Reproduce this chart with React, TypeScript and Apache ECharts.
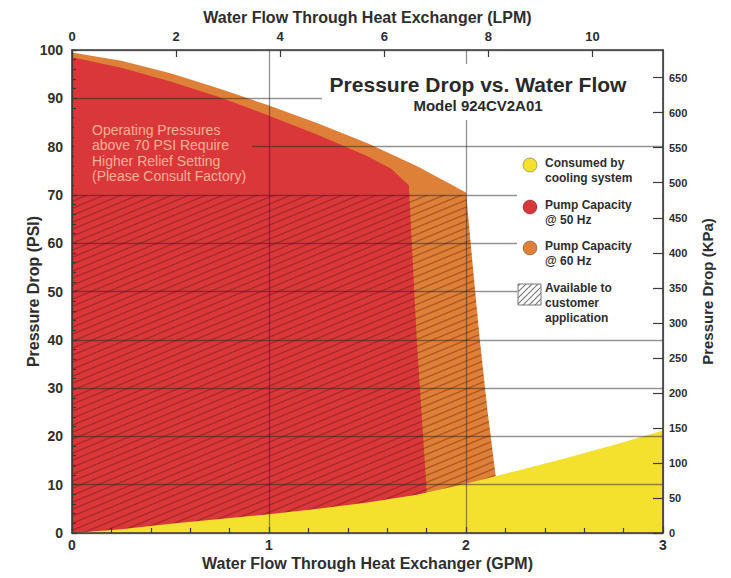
import React, { useEffect, useRef } from "react";
import * as echarts from "echarts";

const FONT = '"Liberation Sans", Arial, Helvetica, sans-serif';

const TITLE = "Pressure Drop vs. Water Flow";
const SUBTITLE = "Model 924CV2A01";
const NOTE_LINES = [
  "Operating Pressures",
  "above 70 PSI Require",
  "Higher Relief Setting",
  "(Please Consult Factory)",
];

const GPM_AXIS_NAME = "Water Flow Through Heat Exchanger (GPM)";
const LPM_AXIS_NAME = "Water Flow Through Heat Exchanger (LPM)";
const PSI_AXIS_NAME = "Pressure Drop (PSI)";
const KPA_AXIS_NAME = "Pressure Drop (KPa)";

const GPM_MAX = 3;
const PSI_MAX = 100;
const LPM_PER_GPM = 3.78541;
const KPA_PER_PSI = 6.89476;
const RELIEF_LIMIT_PSI = 70;

// Pump capacity @ 60 Hz (outline)
const pump60Gpm = [0, 0.25, 0.5, 0.75, 1, 1.25, 1.5, 1.75, 2.0, 2.035, 2.07, 2.11, 2.15];
const pump60Psi = [99.5, 97.8, 95.2, 92, 88.5, 84.8, 80.7, 76, 70.5, 55, 40, 25, 12];

// Pump capacity @ 50 Hz (outline)
const pump50Gpm = [0, 0.25, 0.5, 0.75, 1, 1.25, 1.5, 1.62, 1.71, 1.75, 1.8];
const pump50Psi = [98.5, 96.3, 93.5, 90.2, 86.4, 82.4, 78, 75.4, 72, 40, 9];

// Consumed by cooling system
const consumedGpm = [0, 0.25, 0.5, 0.75, 1, 1.25, 1.5, 1.75, 2, 2.25, 2.5, 2.75, 3];
const consumedPsi = [0, 0.8, 1.9, 2.9, 3.9, 5.0, 6.3, 7.9, 10.2, 12.8, 15.4, 18.2, 21.2];

const NAME_CONSUMED = "Consumed by\ncooling system";
const NAME_PUMP50 = "Pump Capacity\n@ 50 Hz";
const NAME_PUMP60 = "Pump Capacity\n@ 60 Hz";
const NAME_AVAILABLE = "Available to\ncustomer\napplication";

const RED = "#d9373a";
const ORANGE = "#df8038";
const YELLOW = "#f3e12e";
const NOTE_COLOR = "#f7b096";
const TEXT = "#2e2e2e";
const AXIS = "#3a3a3a";

function zip(xs: number[], ys: number[]) {
  return xs.map((x, i) => [x, ys[i]]);
}

function makeHatch(w: number, h: number, color: string, lw: number, bg?: string) {
  const c = document.createElement("canvas");
  c.width = w;
  c.height = h;
  const ctx = c.getContext("2d")!;
  if (bg) {
    ctx.fillStyle = bg;
    ctx.fillRect(0, 0, w, h);
  }
  ctx.strokeStyle = color;
  ctx.lineWidth = lw;
  for (const k of [-1, 0, 1]) {
    ctx.beginPath();
    ctx.moveTo(0, h + k * h);
    ctx.lineTo(w, k * h);
    ctx.stroke();
  }
  return { image: c.toDataURL(), repeat: "repeat", imageWidth: w, imageHeight: h };
}

export default function App() {
  const ref = useRef<HTMLDivElement>(null);

  useEffect(() => {
    const chart = echarts.init(ref.current!, null, { renderer: "svg" });
    const hatch = makeHatch(17, 7, "rgba(85,20,0,0.36)", 1.4);
    const legendHatch = makeHatch(6, 6, "#7a7a7a", 1.2, "#ffffff");

    const gridLine = { color: "rgba(40,40,40,0.5)", width: 1.3 };
    const labelBase = { color: TEXT, fontFamily: FONT, fontWeight: "bold" };
    const nameBase = { color: TEXT, fontFamily: FONT, fontWeight: "bold", fontSize: 16 };
    const lineBase = {
      type: "line",
      xAxisIndex: 0,
      yAxisIndex: 0,
      symbol: "none",
      silent: true,
      lineStyle: { width: 0, opacity: 0 },
      emphasis: { disabled: true },
    };

    const legendCircles = [
      { name: NAME_CONSUMED, fill: YELLOW, cy: 165 },
      { name: NAME_PUMP50, fill: RED, cy: 207 },
      { name: NAME_PUMP60, fill: ORANGE, cy: 248 },
    ];

    const legendElements: any[] = [
      { type: "rect", z: 50, shape: { x: 517, y: 150, width: 145, height: 184 }, style: { fill: "#fff" } },
    ];
    legendCircles.forEach((it) => {
      legendElements.push({
        type: "circle",
        z: 51,
        shape: { cx: 530, cy: it.cy, r: 7 },
        style: { fill: it.fill, stroke: "rgba(0,0,0,0.3)", lineWidth: 1 },
      });
      legendElements.push({
        type: "text",
        z: 51,
        x: 545,
        y: it.cy - 9.5,
        style: {
          text: it.name,
          fontFamily: FONT,
          fontWeight: "bold",
          fontSize: 12,
          lineHeight: 15,
          fill: TEXT,
          verticalAlign: "top",
          align: "left",
        },
      });
    });
    legendElements.push({
      type: "rect",
      z: 51,
      shape: { x: 518, y: 284, width: 23, height: 21 },
      style: { fill: legendHatch, stroke: "#777", lineWidth: 1 },
    });
    legendElements.push({
      type: "text",
      z: 51,
      x: 545,
      y: 280.5,
      style: {
        text: NAME_AVAILABLE,
        fontFamily: FONT,
        fontWeight: "bold",
        fontSize: 12,
        lineHeight: 15,
        fill: TEXT,
        verticalAlign: "top",
        align: "left",
      },
    });

    const option: any = {
      animation: false,
      grid: { left: 72, right: 68, top: 50, bottom: 45 },
      xAxis: [
        {
          type: "value",
          position: "bottom",
          min: 0,
          max: GPM_MAX,
          interval: 1,
          z: 5,
          name: GPM_AXIS_NAME,
          nameLocation: "middle",
          nameGap: 22,
          nameMoveOverlap: false,
          nameTextStyle: nameBase,
          axisLine: { onZero: false, lineStyle: { color: AXIS, width: 1.6 } },
          axisTick: { inside: true, length: 6, lineStyle: { color: AXIS, width: 1.2 } },
          minorTick: { show: true, splitNumber: 5, length: 5, lineStyle: { color: AXIS, width: 1.2 } },
          axisLabel: { ...labelBase, fontSize: 14, margin: 5 },
          splitLine: { show: true, lineStyle: gridLine },
        },
        {
          type: "value",
          position: "top",
          min: 0,
          max: GPM_MAX * LPM_PER_GPM,
          interval: 2,
          z: 5,
          name: LPM_AXIS_NAME,
          nameLocation: "middle",
          nameGap: 25,
          nameMoveOverlap: false,
          nameTextStyle: nameBase,
          axisLine: { onZero: false, lineStyle: { color: AXIS, width: 1.6 } },
          axisTick: { inside: true, length: 7, lineStyle: { color: AXIS, width: 1.2 } },
          axisLabel: {
            ...labelBase,
            fontSize: 13,
            margin: 7,
            showMaxLabel: false,
            formatter: (v: number) => (Math.abs(v % 2) < 1e-9 ? String(v) : ""),
          },
          splitLine: { show: false },
        },
      ],
      yAxis: [
        {
          type: "value",
          position: "left",
          min: 0,
          max: PSI_MAX,
          interval: 10,
          z: 5,
          name: PSI_AXIS_NAME,
          nameLocation: "middle",
          nameGap: 31,
          nameMoveOverlap: false,
          nameTextStyle: nameBase,
          axisLine: { onZero: false, lineStyle: { color: AXIS, width: 1.6 } },
          axisTick: { inside: true, length: 5, lineStyle: { color: AXIS, width: 1.2 } },
          minorTick: { show: true, splitNumber: 5, length: 4, lineStyle: { color: AXIS, width: 1.2 } },
          axisLabel: { ...labelBase, fontSize: 14, margin: 9 },
          splitLine: { show: true, lineStyle: gridLine },
        },
        {
          type: "value",
          position: "right",
          min: 0,
          max: PSI_MAX * KPA_PER_PSI,
          interval: 50,
          z: 60,
          name: KPA_AXIS_NAME,
          nameLocation: "middle",
          nameGap: 37,
          nameMoveOverlap: false,
          nameTextStyle: { ...nameBase, fontSize: 15 },
          axisLine: { onZero: false, lineStyle: { color: AXIS, width: 1.6 } },
          axisTick: { inside: true, length: 10, lineStyle: { color: AXIS, width: 1.2 } },
          axisLabel: {
            ...labelBase,
            fontSize: 11,
            margin: 6,
            showMaxLabel: false,
            formatter: (v: number) => (Math.abs(v % 50) < 1e-9 ? String(v) : ""),
          },
          splitLine: { show: false },
        },
      ],
      series: [
        {
          ...lineBase,
          name: NAME_PUMP60,
          data: zip(pump60Gpm, pump60Psi),
          itemStyle: { color: ORANGE },
          areaStyle: { color: ORANGE, opacity: 1 },
        },
        {
          ...lineBase,
          name: NAME_PUMP50,
          data: zip(pump50Gpm, pump50Psi),
          itemStyle: { color: RED },
          areaStyle: { color: RED, opacity: 1 },
        },
        {
          ...lineBase,
          name: NAME_AVAILABLE,
          data: zip(
            pump60Gpm,
            pump60Psi.map((p) => Math.min(p, RELIEF_LIMIT_PSI))
          ),
          itemStyle: { color: "#888" },
          areaStyle: { color: hatch, opacity: 1 },
        },
        {
          ...lineBase,
          name: NAME_CONSUMED,
          data: zip(consumedGpm, consumedPsi),
          itemStyle: { color: YELLOW },
          areaStyle: { color: YELLOW, opacity: 1 },
        },
      ],
      graphic: {
        elements: [
          { type: "rect", z: 50, shape: { x: 322, y: 64, width: 340, height: 56 }, style: { fill: "#fff" } },
          {
            type: "text",
            z: 51,
            x: 478,
            y: 84,
            style: {
              text: TITLE,
              fontFamily: FONT,
              fontWeight: "bold",
              fontSize: 21,
              fill: "#2a2a2a",
              align: "center",
              verticalAlign: "middle",
            },
          },
          {
            type: "text",
            z: 51,
            x: 478,
            y: 105,
            style: {
              text: SUBTITLE,
              fontFamily: FONT,
              fontWeight: "bold",
              fontSize: 15,
              fill: "#2a2a2a",
              align: "center",
              verticalAlign: "middle",
            },
          },
          {
            type: "text",
            z: 51,
            x: 74,
            y: 116,
            style: {
              text: NOTE_LINES.join("\n"),
              fontFamily: FONT,
              fontSize: 14,
              lineHeight: 15.5,
              fill: NOTE_COLOR,
              align: "left",
              verticalAlign: "top",
              backgroundColor: RED,
              padding: [6, 6, 6, 18],
            },
          },
          ...legendElements,
        ],
      },
    };

    chart.setOption(option);
    return () => chart.dispose();
  }, []);

  return (
    <div
      ref={ref}
      style={{ position: "fixed", left: 0, top: 0, width: 731, height: 578, background: "#fff" }}
    />
  );
}
